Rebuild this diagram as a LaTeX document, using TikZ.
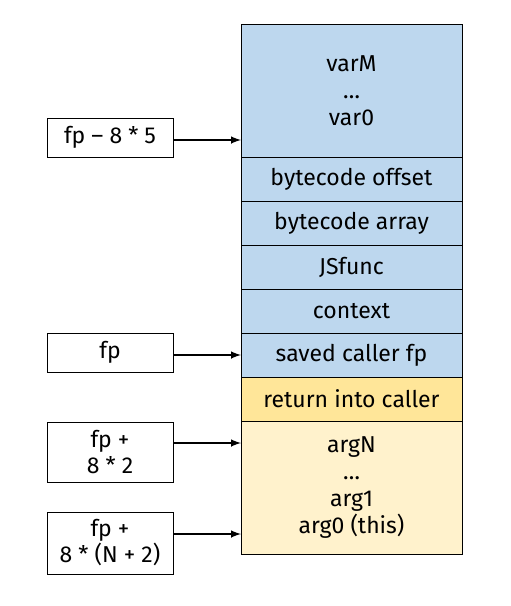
\documentclass[tikz,border=0pt]{standalone}
\usepackage{fontspec}
\setmainfont{Fira Sans}
\usetikzlibrary{positioning}
\definecolor{frameblue}{HTML}{BDD7EE}
\definecolor{retyellow}{HTML}{FFE699}
\definecolor{argyellow}{HTML}{FFF2CC}
\begin{document}
\begin{tikzpicture}[x=1pt,y=-1pt,
    font=\fontsize{23}{27}\selectfont,
    slot/.style={draw, line width=1pt, fill=frameblue, minimum width=221pt, minimum height=44pt,
      inner sep=0pt, outer sep=0pt, align=center},
    ptr/.style={draw, line width=1pt, fill=white, minimum width=126pt, inner sep=0pt,
      outer sep=0pt, align=center, font=\fontsize{23}{26}\selectfont},
    arr/.style={-latex, line width=2.4pt}]
  \useasboundingbox (0,0) rectangle (511,606);
  % the stack frame
  \node[slot, minimum height=133pt] (vars) at (351.5,90.5) {varM\\\ldots\\var0};
  \node[slot, below=0pt of vars] (bcoffset) {bytecode offset};
  \node[slot, below=0pt of bcoffset] (bcarray) {bytecode array};
  \node[slot, below=0pt of bcarray] (jsfunc) {JSfunc};
  \node[slot, below=0pt of jsfunc] (context) {context};
  \node[slot, below=0pt of context] (savedfp) {saved caller fp};
  \node[slot, fill=retyellow, below=0pt of savedfp] (retaddr) {return into caller};
  \node[slot, fill=argyellow, minimum height=133pt, below=0pt of retaddr] (args) {argN\\\ldots\\arg1\\arg0 (this)};
  % pointers into the frame
  \node[ptr, minimum height=39pt] (fpminus) at (110,137.5) {fp – 8 * 5};
  \node[ptr, minimum height=39pt] (fp) at (110,352.5) {fp};
  \node[ptr, minimum height=60pt] (fpargn) at (110,452) {fp +\\8 * 2};
  \node[ptr, minimum height=62pt] (fparg0) at (110,543) {fp +\\8 * (N + 2)};
  \draw[arr] ([yshift=-2.5pt]fpminus.east) -- ([yshift=-2.5pt]fpminus.east -| vars.west);
  \draw[arr] ([yshift=-2.5pt]fp.east) -- ([yshift=-2.5pt]fp.east -| savedfp.west);
  \draw[arr] ([yshift=9pt]fpargn.east) -- ([yshift=9pt]fpargn.east -| args.west);
  \draw[arr] ([yshift=9pt]fparg0.east) -- ([yshift=9pt]fparg0.east -| args.west);
\end{tikzpicture}
\end{document}
